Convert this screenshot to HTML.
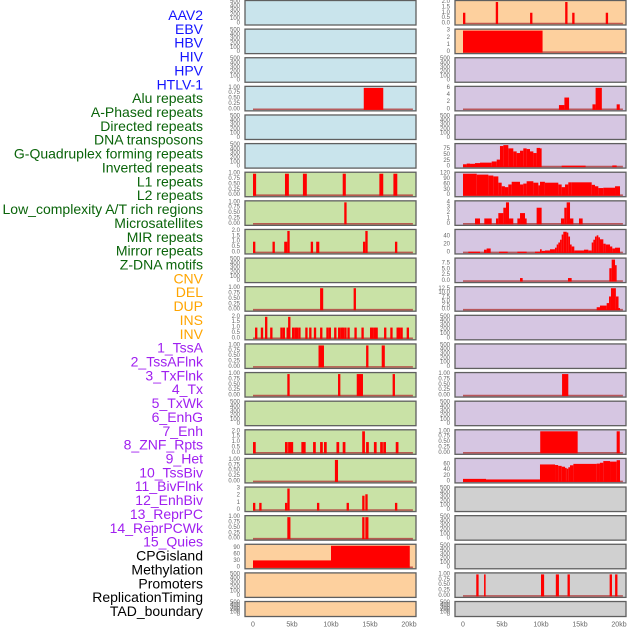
<!DOCTYPE html>
<html><head><meta charset="utf-8"><style>
html,body{margin:0;padding:0;background:#fff;}
svg{display:block;font-family:"Liberation Sans",sans-serif;}
</style></head><body>
<svg id="chart" width="630" height="630" viewBox="0 0 630 630" xmlns="http://www.w3.org/2000/svg"></svg>
<script>
const trackNames = ["AAV2","EBV","HBV","HIV","HPV","HTLV-1","Alu repeats","A-Phased repeats","Directed repeats","DNA transposons","G-Quadruplex forming repeats","Inverted repeats","L1 repeats","L2 repeats","Low_complexity A/T rich regions","Microsatellites","MIR repeats","Mirror repeats","Z-DNA motifs","CNV","DEL","DUP","INS","INV","1_TssA","2_TssAFlnk","3_TxFlnk","4_Tx","5_TxWk","6_EnhG","7_Enh","8_ZNF_Rpts","9_Het","10_TssBiv","11_BivFlnk","12_EnhBiv","13_ReprPC","14_ReprPCWk","15_Quies","CPGisland","Methylation","Promoters","ReplicationTiming","TAD_boundary"];
const trackGroups = ["v","v","v","v","v","v","r","r","r","r","r","r","r","r","r","r","r","r","r","s","s","s","s","s","c","c","c","c","c","c","c","c","c","c","c","c","c","c","c","o","o","o","o","o"];
const xTicks = [0,5,10,15,20];
const xTickLabels = ["0","5kb","10kb","15kb","20kb"];

const ticksEmpty=[0,100,200,300,400,500], ticks1=[0,0.25,0.5,0.75,1], ticks2=[0,0.5,1,1.5,2], ticks3=[0,1,2,3];
// Left column
const hivBars=[[14.2,16.7,1]];
const aluBars=[[0,0.4,1],[4.1,4.6,1],[6.4,6.9,1],[11.5,11.9,1],[16.2,16.7,1],[18.0,18.5,1]];
const aphasedBars=[[11.7,12.0,1]];
const directedBars=[[0,0.3,1],[2.5,2.8,1],[4.0,4.4,1],[4.4,4.7,2],[7.4,7.7,1],[8.1,8.5,1],[14.1,14.4,1],[14.4,14.7,2],[18.2,18.5,1]];
const gquadBars=[[8.6,9.0,1],[12.9,13.2,1]];
const invertedStarts=[0.26,1.0,1.54,2.2,3.5,3.8,4.3,4.5,5.0,5.3,5.5,5.8,6.7,7.2,7.8,8.6,9.4,9.7,10.4,10.9,11.2,11.4,11.7,12.1,13.0,13.9,15.0,15.2,15.5,15.7,16.8,17.6,18.4,18.6,18.9,19.7];
const invertedValues=[1,1,2,1,1,1,1,2,1,1,1,1,1,1,1,1,1,1,1,1,1,1,1,1,1,1,1,1,1,1,1,1,1,1,1,1];
const l1Bars=[[8.4,9.1,1],[14.5,14.8,1],[16.5,16.9,1]];
const l2Bars=[[4.4,4.7,1],[10.9,11.2,1],[13.3,14.1,1],[17.9,18.2,1]];
const microStarts=[0.0,4.1,4.5,4.8,6.2,6.4,7.7,8.6,9.1,10.7,11.5,14.0,14.5,15.5,16.3,16.7,18.3];
const microValues=[1,1,1,1,1,1,1,1,1,1,1,2,1,1,1,1,1];
const mirBars=[[10.5,10.9,1]];
const mirrorBars=[[0,0.3,1],[0.8,1.1,1],[4.1,4.4,1],[4.4,4.7,3],[8.2,8.5,1],[12.0,12.3,1],[14.0,14.3,2],[14.4,14.7,2.2],[18.2,18.5,1]];
const zdnaBars=[[4.4,4.8,1],[14.0,14.3,1],[14.4,14.8,1]];
const cnvBars=[[0,10,32],[10,20.1,100]];
// Right column
const insBars=[[0,0.3,1],[4.2,4.5,2],[8.6,8.9,1],[13.1,13.4,2],[14.0,14.3,1],[18.3,18.6,1]];
const invBars=[[0,10.2,3]];
const tssaflnkBars=[[12.3,13.0,1.2],[13.0,13.6,3.3],[16.6,17.0,1.4],[17.0,17.8,6],[19.7,20.1,1.4]];
const txBars=[[0,0.47,10],[0.47,0.9,13],[0.9,1.54,12],[1.54,2.18,15],[2.18,3.68,17],[3.68,4.32,22],[4.32,4.74,30],[4.74,5.17,88],[5.17,5.81,92],[5.81,6.45,78],[6.45,6.88,65],[6.88,7.31,58],[7.31,7.73,68],[7.73,8.16,78],[8.16,8.59,75],[8.59,9.02,65],[9.02,9.44,58],[9.44,9.87,80],[9.87,10.08,78],[12.65,15.72,4],[19.14,19.7,5]];
const txwkEdges=[0,1.76,3.25,3.89,4.53,4.96,5.38,5.81,6.24,7.31,7.73,8.16,9.02,9.66,9.87,10.5,12.22,12.65,13.08,13.5,13.93,16.5,16.92,17.35,17.99,19.49,20.13];
const txwkValues=[120,115,110,105,70,50,45,60,75,60,65,78,70,55,75,70,60,45,60,72,72,58,50,40,42,50];
const enhgBars=[[1.54,2.18,1],[2.73,3.68,1],[4.23,4.53,1],[4.53,5.17,2],[5.17,5.51,3],[5.51,5.9,4],[5.9,6.45,1],[6.97,7.31,1],[7.31,7.95,2],[7.95,8.16,1],[9.44,10.08,3],[12.56,12.99,1],[12.99,13.29,3],[13.29,13.72,4],[13.72,14.15,1],[14.87,15.34,1]];
const enhBars=[[0.68,2.18,2],[2.69,3.03,7],[3.03,3.55,10],[4.62,5.73,2],[6.97,8.16,2],[9.23,9.87,2],[9.87,10.09,8],[10.09,10.51,4],[10.51,11.15,5],[11.15,11.79,8],[11.79,12.01,12],[12.01,12.22,20],[12.22,12.44,25],[12.44,12.65,32],[12.65,12.86,45],[12.86,13.29,52],[13.29,13.5,50],[13.5,13.72,40],[13.72,13.93,20],[13.93,14.27,15],[14.27,15.51,5],[15.51,16.07,7],[16.07,16.5,5],[16.5,16.71,25],[16.71,16.92,32],[16.92,17.14,40],[17.14,17.35,43],[17.35,17.56,38],[17.56,17.99,33],[17.99,18.29,22],[18.29,18.85,20],[18.85,19.14,15],[19.14,19.49,10],[19.49,20.13,12]];
const znfBars=[[7.31,7.65,1.3],[13.46,13.93,1.3],[18.76,19.06,5.5],[19.06,19.49,9.2],[19.49,19.7,6.8]];
const hetBars=[[17.14,17.56,1.5],[17.56,18.42,2.5],[18.42,18.72,4],[18.72,18.97,8],[18.97,19.6,13],[19.6,19.94,8],[19.94,20.13,1]];
const bivflnkBars=[[12.7,13.5,1]];
const reprpcBars=[[9.9,14.7,1],[19.7,20.1,1]];
const quiesBars=[[0,2.95,9],[2.95,9.87,7],[9.87,11.8,60],[11.8,12.2,58],[12.2,12.65,55],[12.65,13.08,52],[13.08,13.29,48],[13.29,13.5,45],[13.5,13.72,50],[13.72,14.15,57],[14.15,17.14,62],[17.14,17.56,63],[17.56,17.99,66],[17.99,18.85,72],[18.85,19.7,70],[19.7,20.13,75]];
const promoterBars=[[1.7,2.0,1],[2.7,2.9,1],[10.0,10.4,1],[11.9,12.3,1],[13.4,13.7,1],[18.8,19.1,1],[19.5,19.8,1]];

function toBars(starts, vals, w){ return starts.map((s,i)=>[s,s+w,vals[i]]); }
function stepBars(edges, vals){ return vals.map((v,i)=>[edges[i],edges[i+1],v]); }

// panel order: 22 left rows then 22 right rows
const panelBars = [null,null,null,hivBars,null,null,aluBars,aphasedBars,directedBars,null,gquadBars,toBars(invertedStarts,invertedValues,0.3),l1Bars,l2Bars,null,toBars(microStarts,microValues,0.35),mirBars,mirrorBars,zdnaBars,cnvBars,null,null,
 insBars,invBars,null,tssaflnkBars,null,txBars,stepBars(txwkEdges,txwkValues),enhgBars,enhBars,znfBars,hetBars,null,null,bivflnkBars,null,reprpcBars,quiesBars,null,null,null,promoterBars,null];
const panelTicks = [ticksEmpty,ticksEmpty,ticksEmpty,ticks1,ticksEmpty,ticksEmpty,ticks1,ticks1,ticks2,ticksEmpty,ticks1,ticks2,ticks1,ticks1,ticksEmpty,ticks2,ticks1,ticks3,ticks1,[0,30,60,90],ticksEmpty,ticksEmpty,
 ticks2,ticks3,ticksEmpty,[0,2,4,6],ticksEmpty,[0,25,50,75],[0,30,60,90,120],[0,1,2,3,4],[0,20,40],[0,2.5,5,7.5],[0,2.5,5,7.5,10,12.5],ticksEmpty,ticksEmpty,ticks1,ticksEmpty,ticks1,[0,20,40,60],ticksEmpty,ticksEmpty,ticksEmpty,ticks1,ticksEmpty];
const panelMax = [500,500,500,1,500,500,1,1,2,500,1,2,1,1,500,2,1,3,1,100,500,500,
 2,3,500,6,500,92,120,4,54,9.2,13,500,500,1,500,1,76,500,500,500,1,500];

const groupColor={v:"#1414ff",r:"#0a640a",s:"#ffa500",c:"#a020f0",o:"#000"};
const groupBg={v:"#c9e4ec",r:"#c9e2a6",s:"#fdd09e",c:"#d6c6e2",o:"#d0d0d0"};
const NS="http://www.w3.org/2000/svg";
const svg=document.getElementById("chart");
function mk(tag,attrs,parent){const e=document.createElementNS(NS,tag);for(const k in attrs)e.setAttribute(k,attrs[k]);(parent||svg).appendChild(e);return e;}
function fmt(t,ticks){const mx=Math.max(...ticks);if(mx<=1)return t.toFixed(2);if(ticks.some(v=>v%1!==0))return t.toFixed(1);return String(t);}

trackNames.forEach((n,i)=>{
  const t=mk("text",{x:203,y:15+13.86*i,"text-anchor":"end","dominant-baseline":"central","font-size":"14",fill:groupColor[trackGroups[i]]});
  t.textContent=n;
  
  
});

panelBars.forEach((bars,i)=>{
  const col=i<22?0:1, row=i%22;
  const px0=col===0?245:455, pw=171;
  const xs=kb=>px0+8+kb*7.8;
  const top=0.5+28.62*row, h=row===21?15:24.5, bot=top+h;
  const ys=v=>bot-1.5-v/panelMax[i]*(h-3);
  const g=mk("g",{});
  
  
  mk("rect",{x:px0,y:top,width:pw,height:h,fill:groupBg[trackGroups[i]]},g);
  if(bars){
    const bl=mk("line",{x1:xs(0),x2:xs(20.5),y1:ys(0),y2:ys(0),stroke:"#b23a3a","stroke-width":"1.6","stroke-opacity":"0.8"},g);
    
    
    bars.forEach(b=>{
      const r=mk("rect",{x:xs(b[0]),y:ys(b[2]),width:Math.max(1.2,xs(b[1])-xs(b[0])),height:ys(0)-ys(b[2])+0.5,fill:"#ff0000"},g);
      
      
    });
  }
  mk("rect",{x:px0,y:top,width:pw,height:h,fill:"none",stroke:"#5f5f5f","stroke-width":"1.3"},g);
  panelTicks[i].forEach(t=>{
    const tt=mk("text",{x:px0-5,y:ys(t),"text-anchor":"end","dominant-baseline":"central","font-size":"6",fill:"#666"},g);
    tt.textContent=fmt(t,panelTicks[i]);
    
    
  });
});

[245,455].forEach(px0=>{
  xTicks.forEach((k,j)=>{
    const t=mk("text",{x:px0+8+k*7.8,y:625,"text-anchor":"middle","dominant-baseline":"central","font-size":"7",fill:"#666"});
    t.textContent=xTickLabels[j];
    
    
  });
});
</script>
</body></html>
